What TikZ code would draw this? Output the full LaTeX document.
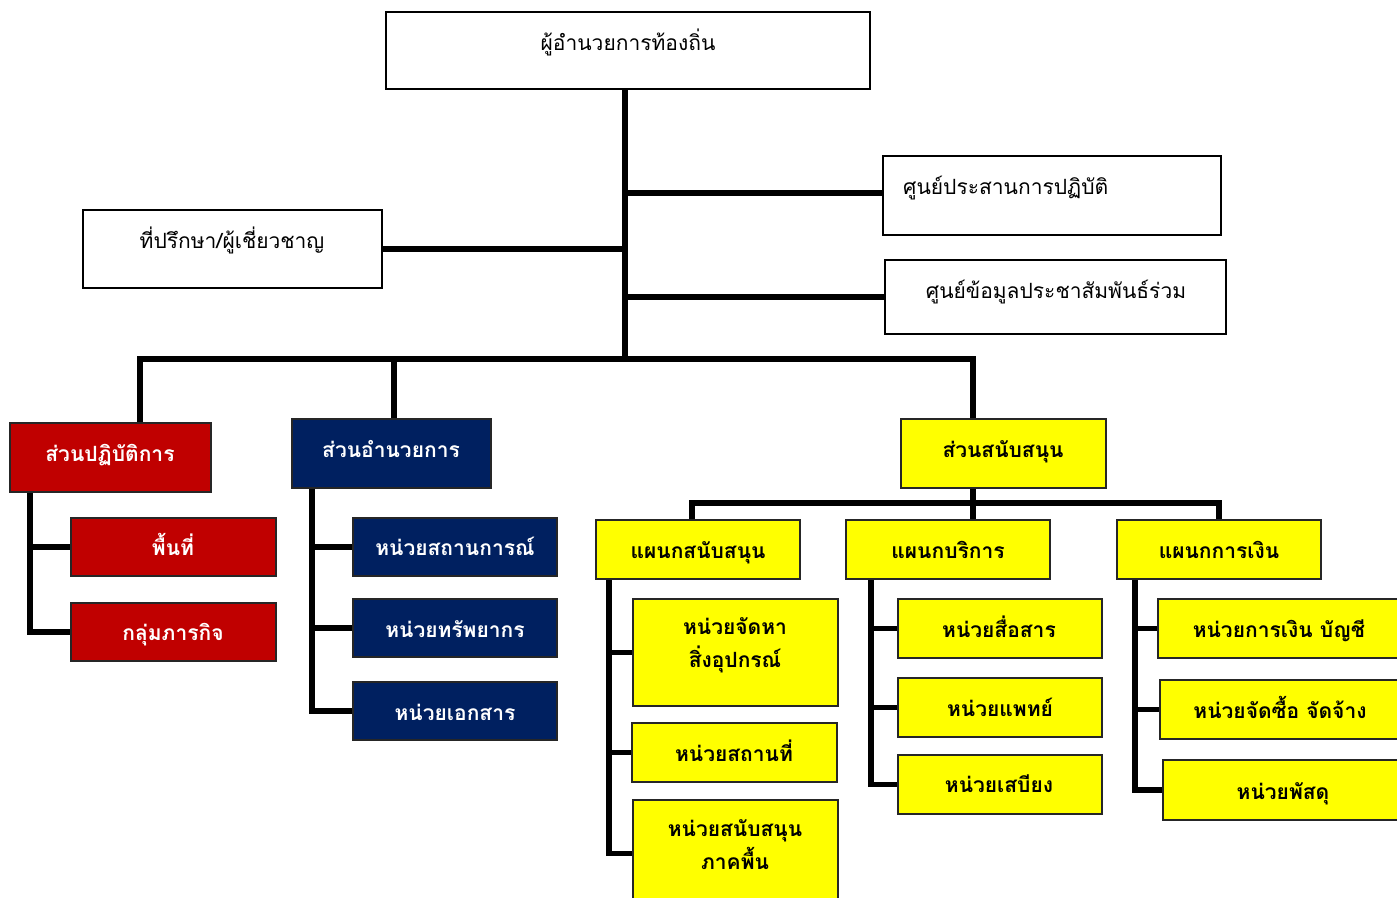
\documentclass[tikz,border=0pt]{standalone}
\usepackage{fontspec}
\usetikzlibrary{backgrounds}
\newfontfamily\thai[Script=Thai]{Loma}
\definecolor{cred}{HTML}{C00000}
\definecolor{cnavy}{HTML}{002060}
\definecolor{cyel}{HTML}{FFFF00}
\tikzset{
  box/.style={draw=black, line width=1.8pt, anchor=north west, inner sep=0pt, outer sep=0pt},
  wbox/.style={box, fill=white},
  rbox/.style={box, fill=cred, draw=black!85},
  nbox/.style={box, fill=cnavy, draw=black!85},
  ybox/.style={box, fill=cyel, draw=black!85},
  txt/.style={anchor=base, inner sep=0pt, align=center, font=\thai\fontsize{21}{33}\selectfont},
  btxt/.style={txt, font=\thai\bfseries\fontsize{21}{33}\selectfont},
  wtxt/.style={btxt, text=white},
  conn/.style={line width=5.5pt, line cap=rect, draw=black}
}
\newcommand\bx[6]{\node[#1, minimum width={(#5-#3)*1pt}, minimum height={(#6-#4)*1pt}] (#2) at (#3,#4) {};}
\begin{document}
\begin{tikzpicture}[x=1pt,y=-1pt]
\useasboundingbox (0,0) rectangle (1397,897);
\clip (0,0) rectangle (1397,897);
% boxes
\bx{wbox}{top}{386}{12}{870}{89}
\bx{wbox}{prac}{883}{156}{1221}{235}
\bx{wbox}{info}{885}{260}{1226}{334}
\bx{wbox}{adv}{83}{210}{382}{288}
\bx{rbox}{ops}{10}{423}{211}{492}
\bx{rbox}{area}{71}{518}{276}{576}
\bx{rbox}{mission}{71}{603}{276}{661}
\bx{nbox}{admin}{292}{419}{491}{488}
\bx{nbox}{a1}{353}{518}{557}{576}
\bx{nbox}{a2}{353}{599}{557}{657}
\bx{nbox}{a3}{353}{682}{557}{740}
\bx{ybox}{sup}{901}{419}{1106}{488}
\bx{ybox}{d1}{596}{520}{800}{579}
\bx{ybox}{d2}{846}{520}{1050}{579}
\bx{ybox}{d3}{1117}{520}{1321}{579}
\bx{ybox}{u1}{633}{599}{838}{706}
\bx{ybox}{u2}{632}{723}{837}{782}
\bx{ybox}{u3}{633}{800}{838}{907}
\bx{ybox}{u4}{898}{599}{1102}{658}
\bx{ybox}{u5}{898}{678}{1102}{737}
\bx{ybox}{u6}{898}{755}{1102}{814}
\bx{ybox}{u7}{1158}{599}{1402}{658}
\bx{ybox}{u8}{1160}{680}{1402}{739}
\bx{ybox}{u9}{1163}{760}{1402}{820}
% texts
\node[txt] (top-t) at (628,50) {ผู้อำนวยการท้องถิ่น};
\node[txt, anchor=base west] (prac-t) at (903,194) {ศูนย์ประสานการปฏิบัติ};
\node[txt] (info-t) at (1056,298) {ศูนย์ข้อมูลประชาสัมพันธ์ร่วม};
\node[txt] (adv-t) at (232,248) {ที่ปรึกษา/ผู้เชี่ยวชาญ};
\node[wtxt] (ops-t) at (110,461) {ส่วนปฏิบัติการ};
\node[wtxt] (area-t) at (173,555) {พื้นที่};
\node[wtxt] (mission-t) at (173,640) {กลุ่มภารกิจ};
\node[wtxt] (admin-t) at (391,457) {ส่วนอำนวยการ};
\node[wtxt] (a1-t) at (455,555) {หน่วยสถานการณ์};
\node[wtxt] (a2-t) at (455,637) {หน่วยทรัพยากร};
\node[wtxt] (a3-t) at (455,720) {หน่วยเอกสาร};
\node[btxt] (sup-t) at (1003,457) {ส่วนสนับสนุน};
\node[btxt] (d1-t) at (698,558) {แผนกสนับสนุน};
\node[btxt] (d2-t) at (948,558) {แผนกบริการ};
\node[btxt] (d3-t) at (1219,558) {แผนกการเงิน};
\node[btxt] (u1-t) at (735,667) {หน่วยจัดหา\\สิ่งอุปกรณ์};
\node[btxt] (u2-t) at (734,761) {หน่วยสถานที่};
\node[btxt] (u3-t) at (735,869) {หน่วยสนับสนุน\\ภาคพื้น};
\node[btxt] (u4-t) at (999,637) {หน่วยสื่อสาร};
\node[btxt] (u5-t) at (1000,716) {หน่วยแพทย์};
\node[btxt] (u6-t) at (999,792) {หน่วยเสบียง};
\node[btxt] (u7-t) at (1279,637) {หน่วยการเงิน บัญชี};
\node[btxt] (u8-t) at (1280,718) {หน่วยจัดซื้อ จัดจ้าง};
\node[btxt] (u9-t) at (1283,799) {หน่วยพัสดุ};
% connector coordinates
\coordinate (trunk) at (625,359);
\coordinate (b1) at (140,359);
\coordinate (b2) at (394,359);
\coordinate (b3) at (973,359);
\coordinate (r1) at (30,492);
\coordinate (r2) at (312,488);
\coordinate (s0) at (973,488);
\coordinate (sb1) at (692,503);
\coordinate (sb3) at (1219,503);
\coordinate (r3) at (609,579);
\coordinate (r4) at (871,582);
\coordinate (r5) at (1135,582);
% connectors
\begin{scope}[on background layer]
\draw[conn] (top.south -| trunk) -- (trunk);
\draw[conn] (prac.west |- 0,193) -- (trunk |- 0,193);
\draw[conn] (info.west) -- (info.west -| trunk);
\draw[conn] (adv.east) -- (adv.east -| trunk);
\draw[conn] (b1) -- (b3);
\draw[conn] (b1) -- (b1 |- ops.north);
\draw[conn] (b2) -- (b2 |- admin.north);
\draw[conn] (b3) -- (b3 |- sup.north);
\draw[conn] (r1) |- (area.west);
\draw[conn] (r1) |- (mission.west);
\draw[conn] (r2) |- (a1.west);
\draw[conn] (r2) |- (a2.west);
\draw[conn] (r2) |- (a3.west);
\draw[conn] (s0) -- (s0 |- d2.north);
\draw[conn] (sb1 |- d1.north) -- (sb1) -- (sb3) -- (sb3 |- d3.north);
\draw[conn] (r3) |- (u1.west);
\draw[conn] (r3) |- (u2.west);
\draw[conn] (r3) |- (u3.west);
\draw[conn] (r4) |- (u4.west);
\draw[conn] (r4) |- (u5.west);
\draw[conn] (r4) |- (u6.west);
\draw[conn] (r5) |- (u7.west);
\draw[conn] (r5) |- (u8.west);
\draw[conn] (r5) |- (u9.west);
\end{scope}
\end{tikzpicture}
\end{document}
